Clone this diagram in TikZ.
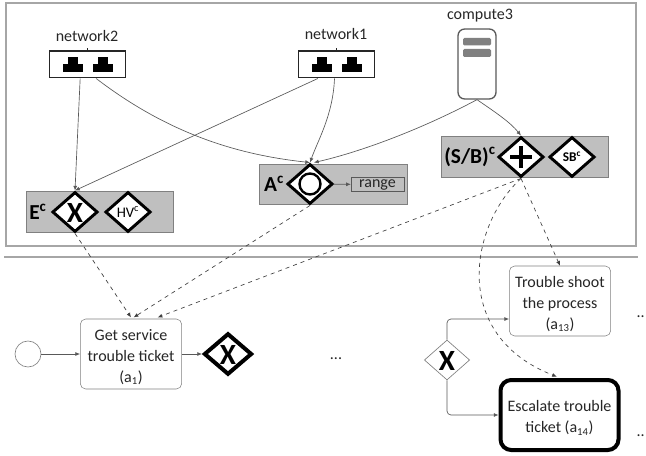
\documentclass[tikz,border=0pt]{standalone}
\usepackage{fontspec}
\setmainfont{Carlito}
\usetikzlibrary{shapes.geometric,arrows.meta,positioning}
\definecolor{framegray}{HTML}{A6A6A6}
\definecolor{groupgray}{HTML}{BFBFBF}
\definecolor{linegray}{HTML}{595959}
\definecolor{inkgray}{HTML}{262626}
\tikzset{
    gateway/.style={diamond,draw=black,fill=white,line width=2.2pt,inner sep=0pt,
        minimum width=34pt,minimum height=30pt,text=black,font=\bfseries\fontsize{10}{12}\selectfont},
    plaingate/.style={gateway,draw=gray,line width=.5pt},
    task/.style={draw=gray,rounded corners=4pt,fill=white,inner sep=0pt,
        minimum width=76pt,minimum height=52.5pt},
    tasktext/.style={align=center,inner sep=0pt,text=inkgray,yshift=-2.2pt,
        font=\fontsize{12}{15.75}\selectfont},
    flow/.style={-{Latex[length=3.5pt,width=3pt]},linegray,line width=.5pt},
    flowdash/.style={flow,dashed,black!75},
    resname/.style={text=inkgray,font=\fontsize{12}{14}\selectfont},
    grouplabel/.style={text=black,font=\bfseries\fontsize{16}{18}\selectfont},
    gatesign/.style={font=\bfseries\fontsize{22}{22}\selectfont},
    netbox/.style={draw=inkgray,line width=1pt,fill=white,minimum width=57pt,minimum height=20pt,inner sep=0pt},
}
\begin{document}
\begin{tikzpicture}[x=.75pt,y=-.75pt]
    \useasboundingbox (0,0) rectangle (646,456);

    % Frame and separator
    \draw[framegray,line width=.9pt] (6,3) rectangle (636,246);
    \draw[framegray,line width=1.1pt] (4,257) -- (638,257);

    % Gray groups
    \fill[groupgray,draw=gray,line width=.3pt] (26,191) rectangle (173,232);
    \fill[groupgray,draw=gray,line width=.3pt] (259,164) rectangle (407,204);
    \fill[groupgray,draw=gray,line width=.3pt] (441,136) rectangle (608,177);

    % Resources
    \node[netbox] (network2) at (87.5,64.5) {};
    \node[netbox] (network1) at (336.5,64.5) {};
    \node[resname] (network2label) at (87,36) {network2};
    \node[resname] (network1label) at (336,34) {network1};
    \foreach \net in {network2,network1} {
        \draw[inkgray,line width=.5pt] (\net.north) -- +(0,-2);
        \foreach \dx in {-15,15} {
            \begin{scope}[shift={(\net.center)},xshift=\dx*.75pt]
                \fill[black] (-10,7.5) rectangle (10,0);
                \fill[black] (-5,0) rectangle (5,-7);
            \end{scope}
        }
    }
    \node[resname] (compute3label) at (480,16) {compute3};
    \node[draw=linegray,line width=1pt,rounded corners=5pt,fill=white,
        minimum width=28.5pt,minimum height=52.5pt,inner sep=0pt] (compute3) at (477,64) {};
    \fill[gray,rounded corners=1pt] (463,38) rectangle (491,45.5);
    \fill[gray,rounded corners=1pt] (463,49) rectangle (491,57);

    % Group E
    \node[grouplabel] (elabel) at (38,212) {E\textsuperscript{c}};
    \node[gateway] (gwE) at (75,212) {};
    \node[gatesign] (gwEsign) at (75,213) {X};
    \node[gateway,font=\fontsize{11}{12}\selectfont] (gwHV) at (128,212) {HV\textsuperscript{c}};

    % Group A
    \node[grouplabel] (alabel) at (274,184) {A\textsuperscript{c}};
    \node[gateway] (gwA) at (310,184) {};
    \draw[black,line width=1.8pt] (gwA.center) circle (10.5);
    \node[draw=linegray,line width=.5pt,minimum width=39.5pt,minimum height=10.5pt,inner sep=0pt,
        text=inkgray,font=\fontsize{12}{12}\selectfont] (range) at (377.5,184.5) {range};
    \draw[flow] (gwA) -- (range);

    % Group S/B
    \node[grouplabel] (sblabel) at (470,157) {(S/B)\textsuperscript{c}};
    \node[gateway] (gwS) at (521,157) {};
    \draw[black,line width=2.6pt] (510,157) -- (532,157);
    \draw[black,line width=2.6pt] (521,146) -- (521,168);
    \node[gateway] (gwSB) at (572,157) {SB\textsuperscript{c}};

    % Process
    \node[draw=gray,line width=.5pt,circle,minimum size=19.5pt,inner sep=0pt] (start) at (28,354) {};
    \node[task] (a1) at (131,354) {};
    \node[tasktext] (a1text) at (a1.center) {Get service\\trouble ticket\\(a\textsubscript{1})};
    \node[gateway,line width=3pt,minimum width=36pt,minimum height=31pt] (gwL) at (228,354) {};
    \node[gatesign] (gwLsign) at (228,355) {X};
    \node[resname] (dotsm) at (336,359) {...};
    \node[plaingate] (gwR) at (447,360) {};
    \node[gatesign] (gwRsign) at (447,361) {X};
    \node[task] (a13) at (560,301) {};
    \node[tasktext] (a13text) at (a13.center) {Trouble shoot\\the process\\(a\textsubscript{13})};
    \node[task,draw=black,line width=3pt,rounded corners=8pt,minimum width=88.5pt,minimum height=52.5pt] (a14) at (559.5,415) {};
    \node[tasktext] (a14text) at (a14.center) {Escalate trouble\\ticket (a\textsubscript{14})};
    \node[resname,anchor=east,inner xsep=0pt] (dotsa) at (645,317) {..};
    \node[resname,anchor=east,inner xsep=0pt] (dotsb) at (645,436) {..};

    \draw[flow] (start) -- (a1);
    \draw[flow] (a1) -- (gwL);
    \draw[flow,rounded corners=3pt] (gwR.north) |- (a13.west |- 447,319);
    \draw[flow,rounded corners=3pt] (gwR.south) |- (a14.west);

    % Resource links
    \draw[flow] ([xshift=-5.5pt]network2.south) -- (gwE.north);
    \draw[flow] ([xshift=-14pt]network1.south) -- (gwE.north);
    \draw[flow] ([xshift=6.5pt]network2.south) .. controls (170,135) and (240,155) .. (gwA.north);
    \draw[flow] ([xshift=-1.5pt]network1.south) .. controls (333,115) and (318,140) .. (gwA.north);
    \draw[flow] (compute3.south) .. controls (420,130) and (360,152) .. ([xshift=3pt]gwA.north);
    \draw[flow] (compute3.south) .. controls (495,112) and (510,122) .. (gwS.north);

    % Allocation links
    \draw[flowdash] (gwE.south) -- ([yshift=1pt]a1.north);
    \draw[flowdash] (gwA.south) -- ([xshift=2pt,yshift=1pt]a1.north);
    \draw[flowdash] (gwS.south) -- ([xshift=20pt,yshift=1pt]a1.north);
    \draw[flowdash] (gwS.south) -- (a13.north);
    \draw[flowdash] (gwS.south) .. controls (470,225) and (450,335) .. ([xshift=-2pt,yshift=1pt]a14.north);
\end{tikzpicture}
\end{document}
